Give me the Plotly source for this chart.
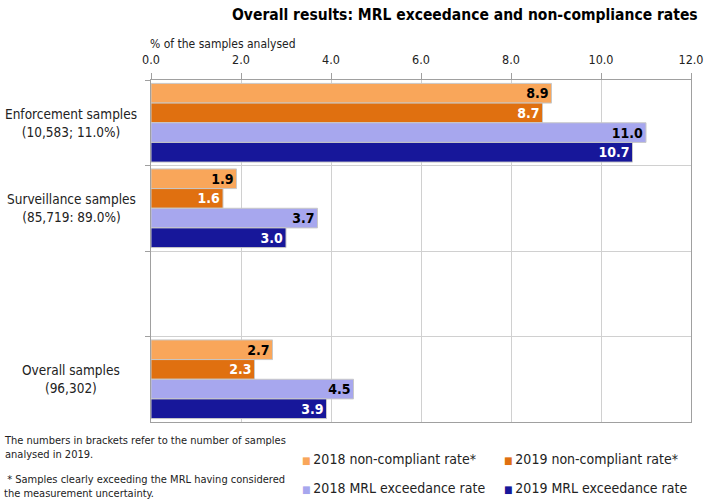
import plotly.graph_objects as go

categories = ["Enforcement samples<br>(10,583; 11.0%)",
              "Surveillance samples<br>(85,719: 89.0%)",
              " ",
              "Overall samples<br>(96,302)"]
series_names = ["2018 non-compliant rate*", "2019 non-compliant rate*",
                "2018 MRL exceedance rate", "2019 MRL exceedance rate"]
nc_2018 = [8.9, 1.9, None, 2.7]
nc_2019 = [8.7, 1.6, None, 2.3]
mrl_2018 = [11.0, 3.7, None, 4.5]
mrl_2019 = [10.7, 3.0, None, 3.9]
x_ticks = [0, 2, 4, 6, 8, 10, 12]
x_tick_labels = ["0.0", "2.0", "4.0", "6.0", "8.0", "10.0", "12.0"]

colors = ["#F9A65A", "#E07010", "#A7A7EE", "#17179A"]
text_colors = ["black", "white", "black", "white"]
FONT = "Tahoma, DejaVu Sans Condensed, DejaVu Sans, sans-serif"

W, H = 709, 502
L, R, T, B = 151, 18, 80, 80
PW, PH = W - L - R, H - T - B


def px_x(px):
    return (px - L) / PW


def px_y(py):
    return (H - B - py) / PH


fig = go.Figure()
for name, vals, c, tc in zip(series_names, [nc_2018, nc_2019, mrl_2018, mrl_2019], colors, text_colors):
    fig.add_trace(go.Bar(
        y=categories, x=vals, name=name, orientation="h", showlegend=False,
        marker=dict(color=c, line=dict(color="#C8C8C8", width=1)),
        text=[f"{v:.1f}" if v is not None else "" for v in vals],
        textposition="inside", insidetextanchor="end",
        textfont=dict(color=tc, size=14, family=FONT, weight="bold"),
        cliponaxis=False,
    ))

for cat in categories:
    if cat.strip():
        fig.add_annotation(x=px_x(71), xref="paper", y=cat, yref="y", text=cat,
                           xanchor="center", yanchor="middle", align="center",
                           showarrow=False, font=dict(size=13.5, family=FONT, color="#222"))

# legend entries (2 x 2 grid)
legend_pos = [(300, 459), (502, 459), (300, 488), (502, 488)]
for name, c, (lx, ly) in zip(series_names, colors, legend_pos):
    fig.add_annotation(x=px_x(lx), xref="paper", y=px_y(ly), yref="paper",
                       xanchor="left", yanchor="middle", showarrow=False,
                       text=f"<span style='font-size:10px;color:{c}'>■ </span>{name}",
                       font=dict(size=14, family=FONT, color="#222"))

fig.add_annotation(x=px_x(700), xref="paper", y=px_y(4), yref="paper", xanchor="right", yanchor="top",
                   text="<b>Overall results: MRL exceedance and non-compliance rates</b>",
                   showarrow=False, font=dict(size=15.5, family=FONT, color="black"))
fig.add_annotation(x=px_x(148), xref="paper", y=px_y(35), yref="paper", xanchor="left", yanchor="top",
                   text="% of the samples analysed", showarrow=False,
                   font=dict(size=12, family=FONT, color="#222"))
fig.add_annotation(x=px_x(2), xref="paper", y=px_y(432), yref="paper", xanchor="left", yanchor="top",
                   text="The numbers in brackets refer to the number of samples<br>analysed in 2019.",
                   align="left", showarrow=False, font=dict(size=11, family=FONT, color="#222"))
fig.add_annotation(x=px_x(2), xref="paper", y=px_y(471), yref="paper", xanchor="left", yanchor="top",
                   text=" * Samples clearly exceeding the MRL having considered<br>the measurement uncertainty.",
                   align="left", showarrow=False, font=dict(size=11, family=FONT, color="#222"))

fig.update_layout(
    width=W, height=H,
    margin=dict(l=L, r=R, t=T, b=B, autoexpand=False),
    paper_bgcolor="white", plot_bgcolor="white",
    barmode="group", bargap=0.08, bargroupgap=0.0,
    showlegend=False,
    uniformtext=dict(minsize=13, mode="show"),
    xaxis=dict(side="top", range=[0, 12], tickvals=x_ticks, ticktext=x_tick_labels,
               showgrid=True, gridcolor="#D0D0D0", gridwidth=1,
               showline=True, linecolor="#A0A0A0", linewidth=1, mirror=True,
               ticks="outside", ticklen=6, tickcolor="#A0A0A0", ticklabelstandoff=4,
               tickfont=dict(size=12.5, family=FONT, color="#222"), zeroline=False),
    yaxis=dict(autorange="reversed", type="category", tickson="boundaries",
               showticklabels=False, ticks="outside", ticklen=5, tickcolor="#A0A0A0",
               showgrid=True, gridcolor="#D0D0D0",
               showline=True, linecolor="#A0A0A0", linewidth=1, mirror=True),
)

fig.write_html("out.html", config={"displayModeBar": False},
               post_script="document.body.style.margin='0';document.body.style.overflow='hidden';")
